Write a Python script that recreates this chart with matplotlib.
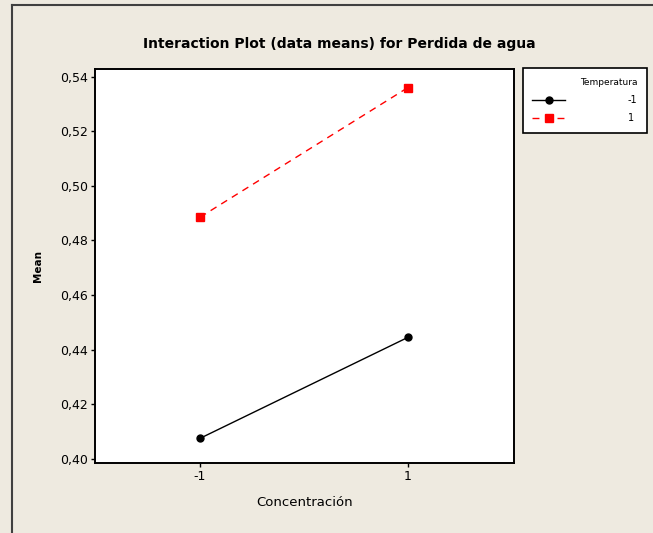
import matplotlib
matplotlib.use('Agg')
from matplotlib import pyplot as plt
from matplotlib.lines import Line2D

# data
concentracion = [-1, 1]
mean_temp_neg = [0.4075, 0.4445]
mean_temp_pos = [0.4885, 0.5360]
temp_levels = ['-1', '1']
y_ticks = [0.40, 0.42, 0.44, 0.46, 0.48, 0.50, 0.52, 0.54]
y_tick_labels = ['0,40', '0,42', '0,44', '0,46', '0,48', '0,50', '0,52', '0,54']
x_tick_labels = ['-1', '1']

bg = '#EEEAE0'

fig = plt.figure(figsize=(6.53, 5.33), dpi=100, facecolor=bg)
ax = fig.add_axes([0.1455, 0.132, 0.6416, 0.7385])
ax.set_facecolor('white')

ax.plot(concentracion, mean_temp_neg, color='black', linewidth=1.0,
        marker='o', markersize=5, label=temp_levels[0])
ax.plot(concentracion, mean_temp_pos, color='red', linewidth=1.0,
        linestyle=(0, (5, 4)), marker='s', markersize=5.5,
        label=temp_levels[1])

ax.set_xlim(-2.01, 2.02)
ax.set_ylim(0.3986, 0.5428)
ax.set_xticks(concentracion)
ax.set_xticklabels(x_tick_labels)
ax.set_yticks(y_ticks)
ax.set_yticklabels(y_tick_labels)
ax.tick_params(direction='out', length=3, width=1, labelsize=9, pad=2)

for sp in ax.spines.values():
    sp.set_linewidth(1.4)

ax.set_xlabel('Concentración', fontsize=9.5, labelpad=10)
ax.set_ylabel('Mean', fontsize=7.5, fontweight='bold', labelpad=12)
fig.suptitle('Interaction Plot (data means) for Perdida de agua',
             x=0.52, y=0.93, fontsize=10, fontweight='bold')

leg = fig.legend(loc='upper right', bbox_to_anchor=(0.991, 0.8724),
                 borderaxespad=0,
                 title='Temperatura', title_fontsize=6.5, fontsize=7,
                 alignment='right', handlelength=3.3, handletextpad=6.5,
                 frameon=True, fancybox=False, edgecolor='black',
                 facecolor='white', framealpha=1, borderpad=1.0,
                 labelspacing=0.85)
leg.get_frame().set_linewidth(1.2)

# outer frame of the graph window
fig.add_artist(Line2D([12 / 653, 12 / 653], [0, 1 - 5 / 533],
                      transform=fig.transFigure, color='#404040', linewidth=1.5))
fig.add_artist(Line2D([12 / 653, 1], [1 - 5 / 533, 1 - 5 / 533],
                      transform=fig.transFigure, color='#404040', linewidth=1.5))

plt.savefig('out.png', dpi=100, facecolor=bg)
